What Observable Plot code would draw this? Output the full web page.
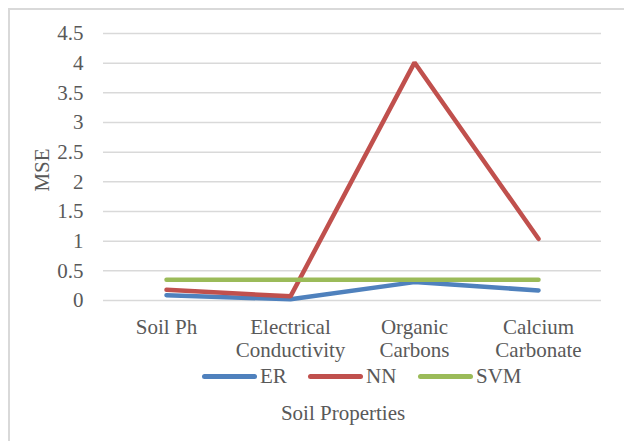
<!DOCTYPE html>
<html>
<head>
<meta charset="utf-8">
<script src="https://cdn.jsdelivr.net/npm/d3@7"></script>
<script src="https://cdn.jsdelivr.net/npm/@observablehq/plot@0.6"></script>
<style>
  html, body { margin: 0; padding: 0; background: #fff; }
  #wrap { position: relative; width: 624px; height: 441px; overflow: hidden; font-family: "Liberation Serif", "Times New Roman", serif; }
  #frame { position: absolute; left: 8px; top: 8px; width: 700px; height: 500px; border-left: 2px solid #d9d9d9; border-top: 2px solid #d9d9d9; box-sizing: border-box; }
  #chart { position: absolute; left: 0; top: 0; }
  #legend { position: absolute; top: 364px; left: 0; width: 624px; height: 24px; }
  .lg { position: absolute; top: 0; display: flex; align-items: center; font-size: 21px; color: #595959; line-height: 24px; }
  .sw { width: 55px; height: 5px; border-radius: 3px; margin-right: 3px; }
  #xtitle { position: absolute; left: 0; width: 686px; top: 401px; text-align: center; font-size: 21px; color: #595959; }
</style>
</head>
<body>
<div id="wrap">
  <div id="frame"></div>
  <div id="chart"></div>
  <div id="legend"></div>
  <div id="xtitle">Soil Properties</div>
</div>
<script>
const categories = ["Soil Ph", "Electrical Conductivity", "Organic Carbons", "Calcium Carbonate"];
const categoryLabels = ["Soil Ph", "Electrical\nConductivity", "Organic\nCarbons", "Calcium\nCarbonate"];
const seriesNames = ["ER", "NN", "SVM"];
const erValues = [0.09, 0.02, 0.31, 0.17];
const nnValues = [0.18, 0.07, 4.01, 1.04];
const svmValues = [0.35, 0.35, 0.35, 0.35];
const yTicks = [0, 0.5, 1, 1.5, 2, 2.5, 3, 3.5, 4, 4.5];
const seriesColors = ["#4F81BD", "#C0504D", "#9BBB59"];

const valuesBySeries = [erValues, nnValues, svmValues];
const data = [];
seriesNames.forEach((s, si) => categories.forEach((c, ci) => data.push({series: s, category: c, value: valuesBySeries[si][ci]})));

const labelMap = new Map(categories.map((c, i) => [c, categoryLabels[i]]));

const chart = Plot.plot({
  width: 624,
  height: 441,
  marginLeft: 103,
  marginRight: 23,
  marginTop: 33,
  marginBottom: 141,
  style: {fontFamily: "'Liberation Serif', 'Times New Roman', serif", fontSize: "21px", color: "#595959", background: "transparent"},
  x: {type: "point", domain: categories, padding: 0.5, label: null},
  y: {domain: [0, 4.5], label: null},
  color: {domain: seriesNames, range: seriesColors},
  marks: [
    Plot.gridY(yTicks, {stroke: "#d9d9d9", strokeOpacity: 1, strokeWidth: 1.5}),
    Plot.axisY(yTicks, {tickSize: 0, tickPadding: 20, fontSize: 21, fill: "#595959", label: null, tickFormat: d => String(d)}),
    Plot.axisX({tickSize: 0, tickPadding: 17, fontSize: 21, fill: "#595959", lineHeight: 1.1, label: null, tickFormat: d => labelMap.get(d)}),
    Plot.text(["MSE"], {frameAnchor: "left", textAnchor: "middle", y: () => 2.2, dx: -61, rotate: -90, fontSize: 21, fill: "#595959"}),
    Plot.line(data, {x: "category", y: "value", z: "series", stroke: "series", strokeWidth: 4.5, strokeLinecap: "round", strokeLinejoin: "miter"})
  ]
});
document.getElementById("chart").appendChild(chart);

const legendX = [202, 308, 418];
const legend = document.getElementById("legend");
seriesNames.forEach((s, i) => {
  const el = document.createElement("div");
  el.className = "lg";
  el.style.left = legendX[i] + "px";
  el.innerHTML = `<div class="sw" style="background:${seriesColors[i]}"></div><span>${s}</span>`;
  legend.appendChild(el);
});
</script>
</body>
</html>
